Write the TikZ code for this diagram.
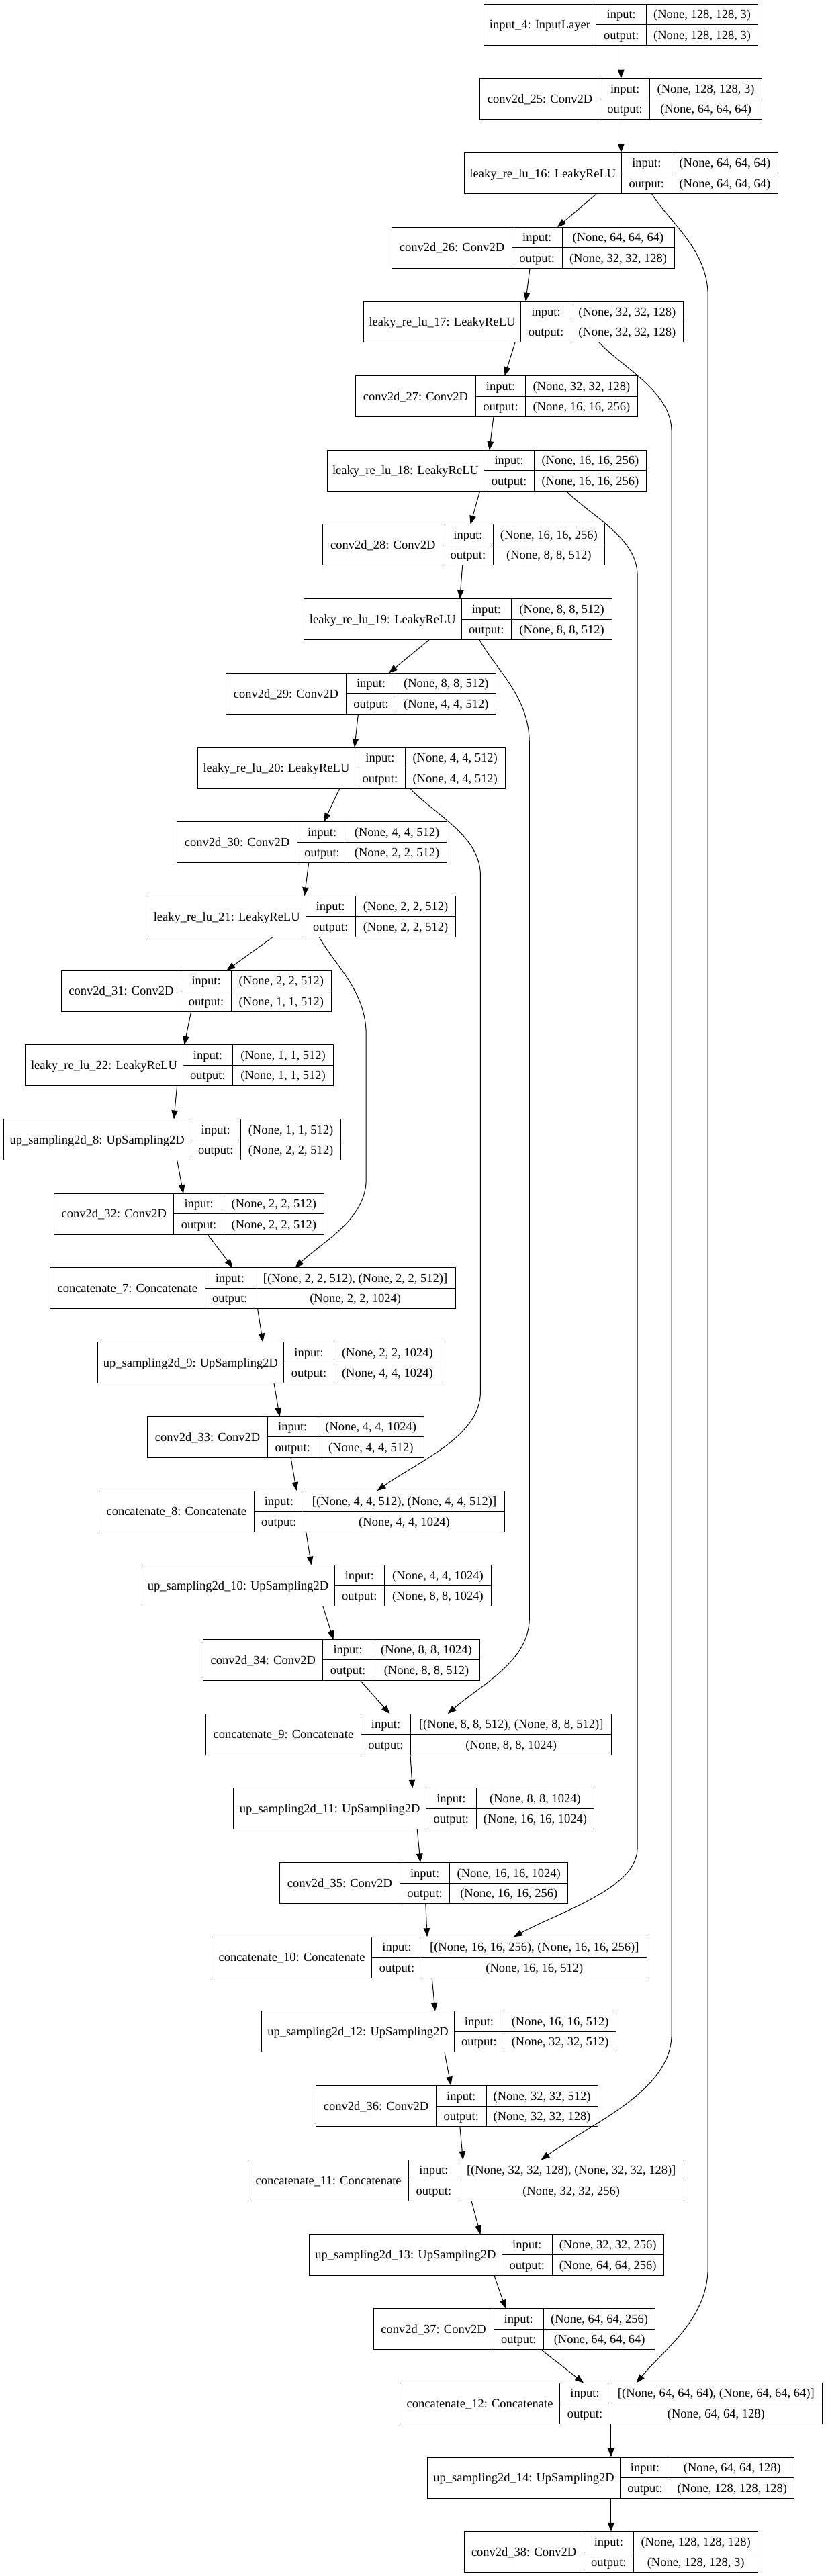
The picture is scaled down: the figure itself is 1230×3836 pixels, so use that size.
\documentclass[tikz,border=0pt]{standalone}
\usepackage{fontspec}
\setmainfont{Liberation Serif}
\usetikzlibrary{arrows.meta,calc}
\tikzset{
  box/.style={draw=black, line width=1pt, rectangle, inner sep=0pt, outer sep=0pt, anchor=north west, minimum height=61pt},
  cell/.style={draw=black, line width=1pt},
  txt/.style={inner sep=0pt, font=\fontsize{18.5pt}{20pt}\selectfont, text height=12.5pt, text depth=0pt},
  arr/.style={line width=1pt, -{Triangle[length=13pt,width=9.5pt]}},
}
\newcommand{\layer}[9]{%
  \pgfmathsetmacro{\lyT}{6+110.7*#2}%
  \pgfmathsetmacro{\lyB}{\lyT+61}%
  \pgfmathsetmacro{\lyM}{\lyT+30.5}%
  \pgfmathsetmacro{\lyI}{\lyT+15.25}%
  \pgfmathsetmacro{\lyO}{\lyT+45.75}%
  \expandafter\xdef\csname L@#1\endcsname{#3}%
  \expandafter\xdef\csname T@#1\endcsname{\lyT}%
  \expandafter\xdef\csname B@#1\endcsname{\lyB}%
  \node[box, minimum width={(#6-#3)*1pt}] (#1) at (#3,\lyT) {};
  \draw[cell] (#4,\lyT) -- (#4,\lyB) (#5,\lyT) -- (#5,\lyB) (#4,\lyM) -- (#6,\lyM);
  \node[txt] (#1-t) at ({(#3+#4)/2},\lyM) {#7};
  \node[txt] (#1-il) at ({(#4+#5)/2},\lyI) {input:};
  \node[txt] (#1-ol) at ({(#4+#5)/2},\lyO) {output:};
  \node[txt] (#1-iv) at ({(#5+#6)/2},\lyI) {#8};
  \node[txt] (#1-ov) at ({(#5+#6)/2},\lyO) {#9};
}
\newcommand{\edge}[4]{%
  \draw[arr] ([xshift={(#2-\csname L@#1\endcsname)*1pt}]#1.south west) -- ([xshift={(#4-\csname L@#3\endcsname)*1pt}]#3.north west);}
\newcommand{\skipe}[7]{%
  \pgfmathsetmacro{\skSy}{\csname B@#1\endcsname}%
  \pgfmathsetmacro{\skEy}{\csname T@#6\endcsname}%
  \pgfmathsetmacro{\skA}{#2+0.35*(#3-#2)}%
  \pgfmathsetmacro{\skB}{\skSy+0.3*(#4-\skSy)}%
  \pgfmathsetmacro{\skC}{\skSy+0.55*(#4-\skSy)}%
  \pgfmathsetmacro{\skD}{#5+0.45*(\skEy-#5)}%
  \pgfmathsetmacro{\skE}{#7+0.4*(#3-#7)}%
  \pgfmathsetmacro{\skF}{\skEy-0.3*(\skEy-#5)}%
  \draw[arr] ([xshift={(#2-\csname L@#1\endcsname)*1pt}]#1.south west) .. controls (\skA,\skB) and (#3,\skC) .. (#3,#4) -- (#3,#5) .. controls (#3,\skD) and (\skE,\skF) .. ([xshift={(#7-\csname L@#6\endcsname)*1pt}]#6.north west);}
\begin{document}
\begin{tikzpicture}[x=1pt,y=-1pt]
\useasboundingbox[fill=white] (0,0) rectangle (1230,3836);
\layer{in4}{0}{720.1}{887.9}{962.5}{1128.8}{input\_4: InputLayer}{(None, 128, 128, 3)}{(None, 128, 128, 3)}
\layer{c25}{1}{714.6}{893.4}{967.9}{1134.3}{conv2d\_25: Conv2D}{(None, 128, 128, 3)}{(None, 64, 64, 64)}
\layer{l16}{2}{691.1}{925.6}{1000.1}{1158.6}{leaky\_re\_lu\_16: LeakyReLU}{(None, 64, 64, 64)}{(None, 64, 64, 64)}
\layer{c26}{3}{583.6}{762.4}{837.0}{1004.0}{conv2d\_26: Conv2D}{(None, 64, 64, 64)}{(None, 32, 32, 128)}
\layer{l17}{4}{541.2}{775.8}{850.3}{1017.4}{leaky\_re\_lu\_17: LeakyReLU}{(None, 32, 32, 128)}{(None, 32, 32, 128)}
\layer{c27}{5}{529.5}{708.3}{782.8}{949.1}{conv2d\_27: Conv2D}{(None, 32, 32, 128)}{(None, 16, 16, 256)}
\layer{l18}{6}{487.1}{720.9}{795.4}{962.5}{leaky\_re\_lu\_18: LeakyReLU}{(None, 16, 16, 256)}{(None, 16, 16, 256)}
\layer{c28}{7}{480.8}{659.7}{734.2}{900.4}{conv2d\_28: Conv2D}{(None, 16, 16, 256)}{(None, 8, 8, 512)}
\layer{l19}{8}{452.6}{687.1}{761.7}{911.4}{leaky\_re\_lu\_19: LeakyReLU}{(None, 8, 8, 512)}{(None, 8, 8, 512)}
\layer{c29}{9}{336.5}{515.4}{589.9}{738.9}{conv2d\_29: Conv2D}{(None, 8, 8, 512)}{(None, 4, 4, 512)}
\layer{l20}{10}{294.2}{528.7}{603.2}{752.2}{leaky\_re\_lu\_20: LeakyReLU}{(None, 4, 4, 512)}{(None, 4, 4, 512)}
\layer{c30}{11}{263.6}{442.4}{516.9}{665.2}{conv2d\_30: Conv2D}{(None, 4, 4, 512)}{(None, 2, 2, 512)}
\layer{l21}{12}{220.4}{455.0}{529.5}{678.5}{leaky\_re\_lu\_21: LeakyReLU}{(None, 2, 2, 512)}{(None, 2, 2, 512)}
\layer{c31}{13}{91.0}{269.8}{344.4}{493.4}{conv2d\_31: Conv2D}{(None, 2, 2, 512)}{(None, 1, 1, 512)}
\layer{l22}{14}{37.7}{272.2}{346.7}{496.5}{leaky\_re\_lu\_22: LeakyReLU}{(None, 1, 1, 512)}{(None, 1, 1, 512)}
\layer{u8}{15}{5.5}{284.0}{358.5}{507.5}{up\_sampling2d\_8: UpSampling2D}{(None, 1, 1, 512)}{(None, 2, 2, 512)}
\layer{c32}{16}{80.8}{258.9}{333.4}{482.4}{conv2d\_32: Conv2D}{(None, 2, 2, 512)}{(None, 2, 2, 512)}
\layer{cat7}{17}{74.5}{305.1}{379.7}{678.5}{concatenate\_7: Concatenate}{[(None, 2, 2, 512), (None, 2, 2, 512)]}{(None, 2, 2, 1024)}
\layer{u9}{18}{145.1}{422.8}{497.3}{656.5}{up\_sampling2d\_9: UpSampling2D}{(None, 2, 2, 1024)}{(None, 4, 4, 1024)}
\layer{c33}{19}{219.6}{398.5}{473.0}{631.5}{conv2d\_33: Conv2D}{(None, 4, 4, 1024)}{(None, 4, 4, 512)}
\layer{cat8}{20}{147.5}{378.1}{452.6}{751.5}{concatenate\_8: Concatenate}{[(None, 4, 4, 512), (None, 4, 4, 512)]}{(None, 4, 4, 1024)}
\layer{u10}{21}{211.0}{498.1}{572.6}{731.1}{up\_sampling2d\_10: UpSampling2D}{(None, 4, 4, 1024)}{(None, 8, 8, 1024)}
\layer{c34}{22}{302.8}{480.8}{555.4}{714.6}{conv2d\_34: Conv2D}{(None, 8, 8, 1024)}{(None, 8, 8, 512)}
\layer{cat9}{23}{306.7}{537.3}{611.8}{910.7}{concatenate\_9: Concatenate}{[(None, 8, 8, 512), (None, 8, 8, 512)]}{(None, 8, 8, 1024)}
\layer{u11}{24}{347.5}{634.6}{709.1}{884.8}{up\_sampling2d\_11: UpSampling2D}{(None, 8, 8, 1024)}{(None, 16, 16, 1024)}
\layer{c35}{25}{416.5}{595.4}{669.9}{845.6}{conv2d\_35: Conv2D}{(None, 16, 16, 1024)}{(None, 16, 16, 256)}
\layer{cat10}{26}{315.3}{553.8}{628.3}{963.3}{concatenate\_10: Concatenate}{[(None, 16, 16, 256), (None, 16, 16, 256)]}{(None, 16, 16, 512)}
\layer{u12}{27}{389.8}{676.2}{750.7}{917.7}{up\_sampling2d\_12: UpSampling2D}{(None, 16, 16, 512)}{(None, 32, 32, 512)}
\layer{c36}{28}{470.6}{649.5}{724.0}{890.3}{conv2d\_36: Conv2D}{(None, 32, 32, 512)}{(None, 32, 32, 128)}
\layer{cat11}{29}{369.5}{608.7}{683.2}{1018.2}{concatenate\_11: Concatenate}{[(None, 32, 32, 128), (None, 32, 32, 128)]}{(None, 32, 32, 256)}
\layer{u13}{30}{460.4}{747.5}{822.0}{988.4}{up\_sampling2d\_13: UpSampling2D}{(None, 32, 32, 256)}{(None, 64, 64, 256)}
\layer{c37}{31}{556.1}{735.0}{809.5}{975.8}{conv2d\_37: Conv2D}{(None, 64, 64, 256)}{(None, 64, 64, 64)}
\layer{cat12}{32}{595.4}{833.8}{908.3}{1224.4}{concatenate\_12: Concatenate}{[(None, 64, 64, 64), (None, 64, 64, 64)]}{(None, 64, 64, 128)}
\layer{u14}{33}{636.9}{923.2}{997.8}{1182.9}{up\_sampling2d\_14: UpSampling2D}{(None, 64, 64, 128)}{(None, 128, 128, 128)}
\layer{c38}{34}{691.1}{869.1}{943.6}{1128.8}{conv2d\_38: Conv2D}{(None, 128, 128, 128)}{(None, 128, 128, 3)}
% main chain
\edge{in4}{924.8}{c25}{924.8}
\edge{c25}{924.8}{l16}{924.8}
\edge{l16}{888.7}{c26}{829.9}
\edge{c26}{789.1}{l17}{782.8}
\edge{l17}{767.1}{c27}{751.5}
\edge{c27}{735.0}{l18}{728.7}
\edge{l18}{714.6}{c28}{700.5}
\edge{c28}{688.7}{l19}{684.8}
\edge{l19}{639.3}{c29}{578.9}
\edge{c29}{533.4}{l20}{527.9}
\edge{l20}{505.9}{c30}{482.4}
\edge{c30}{459.7}{l21}{453.4}
\edge{l21}{406.3}{c31}{337.3}
\edge{c31}{284.7}{l22}{274.5}
\edge{l22}{263.6}{u8}{258.9}
\edge{u8}{263.6}{c32}{273.0}
\edge{c32}{309.1}{cat7}{346.7}
\edge{cat7}{383.6}{u9}{391.4}
\edge{u9}{407.9}{c33}{416.5}
\edge{c33}{433.0}{cat8}{441.6}
\edge{cat8}{455.7}{u10}{463.6}
\edge{u10}{480.8}{c34}{496.5}
\edge{c34}{536.5}{cat9}{580.5}
\edge{cat9}{611.0}{u11}{614.2}
\edge{u11}{621.2}{c35}{626.0}
\edge{c35}{633.8}{cat10}{636.1}
\edge{cat10}{643.2}{u12}{647.9}
\edge{u12}{662.0}{c36}{671.4}
\edge{c36}{684.8}{cat11}{689.5}
\edge{cat11}{702.0}{u13}{715.4}
\edge{u13}{735.8}{c37}{753.0}
\edge{c37}{805.6}{cat12}{869.1}
\edge{cat12}{909.9}{u14}{909.9}
\edge{u14}{909.9}{c38}{909.9}
% skip connections
\skipe{l16}{970.3}{1054.2}{441}{3376}{cat12}{947.6}
\skipe{l17}{891.9}{1000.1}{643}{3029}{cat11}{805.6}
\skipe{l18}{843.2}{949.1}{857}{2752}{cat10}{764.8}
\skipe{l19}{713.8}{788.3}{1107}{2410}{cat9}{666.7}
\skipe{l20}{610.3}{715.4}{1303}{2073}{cat8}{561.6}
\skipe{l21}{475.3}{545.2}{1541}{1756}{cat7}{439.3}
\end{tikzpicture}
\end{document}
